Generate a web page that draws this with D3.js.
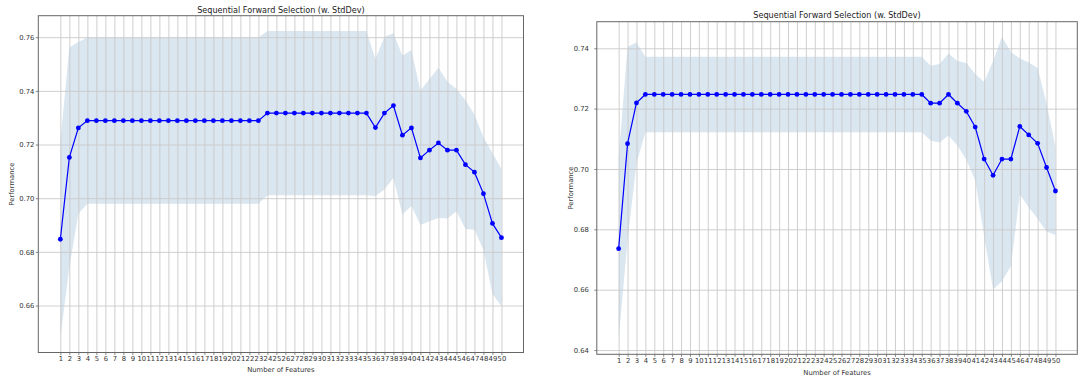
<!DOCTYPE html>
<html>
<head>
<meta charset="utf-8">
<script src="https://cdn.jsdelivr.net/npm/d3@7"></script>
<style>
  html, body { margin: 0; padding: 0; background: #fff; }
  svg { display: block; font-family: "DejaVu Sans", sans-serif; }
</style>
</head>
<body>
<svg id="chart" width="1078" height="378"></svg>
<script>
// ---------- data ----------
const featureCounts = d3.range(1, 51);
const xTickLabels = featureCounts.map(String);

const leftAvg = [0.6847, 0.7152, 0.7262,
  0.7289, 0.7289, 0.7289, 0.7289, 0.7289, 0.7289, 0.7289, 0.7289, 0.7289, 0.7289,
  0.7289, 0.7289, 0.7289, 0.7289, 0.7289, 0.7289, 0.7289, 0.7289, 0.7289, 0.7289,
  0.7317, 0.7317, 0.7317, 0.7317, 0.7317, 0.7317, 0.7317, 0.7317, 0.7317, 0.7317, 0.7317, 0.7317,
  0.7263, 0.7317, 0.7345, 0.7235, 0.7262, 0.7150, 0.7179, 0.7206, 0.7179, 0.7179,
  0.7125, 0.7097, 0.7017, 0.6906, 0.6853];
const leftStd = [0.0365, 0.0410, 0.0320,
  0.0310, 0.0310, 0.0310, 0.0310, 0.0310, 0.0310, 0.0310, 0.0310, 0.0310, 0.0310,
  0.0310, 0.0310, 0.0310, 0.0310, 0.0310, 0.0310, 0.0310, 0.0310, 0.0310, 0.0310,
  0.0306, 0.0306, 0.0306, 0.0306, 0.0306, 0.0306, 0.0306, 0.0306, 0.0306, 0.0306, 0.0306, 0.0306,
  0.0255, 0.0285, 0.0270, 0.0296, 0.0290, 0.0250, 0.0265, 0.0280, 0.0255, 0.0228,
  0.0240, 0.0215, 0.0210, 0.0262, 0.0256];
const leftYTicks = [0.66, 0.68, 0.70, 0.72, 0.74, 0.76];

const rightAvg = [0.6736, 0.7084, 0.7219,
  0.7247, 0.7247, 0.7247, 0.7247, 0.7247, 0.7247, 0.7247, 0.7247, 0.7247, 0.7247,
  0.7247, 0.7247, 0.7247, 0.7247, 0.7247, 0.7247, 0.7247, 0.7247, 0.7247, 0.7247,
  0.7247, 0.7247, 0.7247, 0.7247, 0.7247, 0.7247, 0.7247, 0.7247, 0.7247, 0.7247, 0.7247, 0.7247,
  0.7218, 0.7218, 0.7247, 0.7218, 0.7191, 0.7139, 0.7033, 0.6979, 0.7033, 0.7033,
  0.7141, 0.7113, 0.7085, 0.7005, 0.6927];
const rightStd = [0.0300, 0.0321, 0.0200,
  0.0125, 0.0125, 0.0125, 0.0125, 0.0125, 0.0125, 0.0125, 0.0125, 0.0125, 0.0125,
  0.0125, 0.0125, 0.0125, 0.0125, 0.0125, 0.0125, 0.0125, 0.0125, 0.0125, 0.0125,
  0.0125, 0.0125, 0.0125, 0.0125, 0.0125, 0.0125, 0.0125, 0.0125, 0.0125, 0.0125, 0.0125, 0.0125,
  0.0124, 0.0130, 0.0136, 0.0140, 0.0160, 0.0176, 0.0255, 0.0378, 0.0405, 0.0355,
  0.0225, 0.0240, 0.0250, 0.0212, 0.0146];
const rightYTicks = [0.64, 0.66, 0.68, 0.70, 0.72, 0.74];

const titleText = "Sequential Forward Selection (w. StdDev)";
const xLabelText = "Number of Features";
const yLabelText = "Performance";

// ---------- drawing ----------
const svg = d3.select("#chart");

function drawPanel(p) {
  const n = p.avg.length;
  const upper = p.avg.map((v, i) => v + p.std[i]);
  const lower = p.avg.map((v, i) => v - p.std[i]);
  const ymin = d3.min(lower), ymax = d3.max(upper);
  const ym = (ymax - ymin) * 0.05;
  const xm = (n - 1) * 0.05;

  const x = d3.scaleLinear().domain([1 - xm, n + xm]).range([p.left, p.right]);
  const y = d3.scaleLinear().domain([ymin - ym, ymax + ym]).range([p.bottom, p.top]);

  const g = svg.append("g");

  // fill band
  const area = d3.area()
    .x((d, i) => x(featureCounts[i]))
    .y0((d, i) => y(lower[i]))
    .y1((d, i) => y(upper[i]));
  g.append("path").datum(p.avg).attr("d", area)
    .attr("fill", "steelblue").attr("fill-opacity", 0.2);

  // grid
  const gridX = d3.axisBottom(x).tickValues(featureCounts)
    .tickSize(-(p.bottom - p.top)).tickFormat("");
  g.append("g").attr("transform", `translate(0,${p.bottom})`).call(gridX)
    .call(s => s.select(".domain").remove())
    .selectAll("line").attr("stroke", "#c9c9c9").attr("stroke-width", 0.9);
  const gridY = d3.axisLeft(y).tickValues(p.yTicks)
    .tickSize(-(p.right - p.left)).tickFormat("");
  g.append("g").attr("transform", `translate(${p.left},0)`).call(gridY)
    .call(s => s.select(".domain").remove())
    .selectAll("line").attr("stroke", "#c9c9c9").attr("stroke-width", 0.9);

  // line + markers
  const line = d3.line().x((d, i) => x(featureCounts[i])).y(d => y(d));
  g.append("path").datum(p.avg).attr("d", line)
    .attr("fill", "none").attr("stroke", "#0000ff").attr("stroke-width", 1.2);
  g.selectAll("circle.pt").data(p.avg).enter().append("circle")
    .attr("class", "pt")
    .attr("cx", (d, i) => x(featureCounts[i])).attr("cy", d => y(d))
    .attr("r", 2.4).attr("fill", "#0000ff");

  // axes ticks
  const xAxis = d3.axisBottom(x).tickValues(featureCounts)
    .tickFormat((d, i) => xTickLabels[i]).tickSize(2.5).tickPadding(1.5);
  const xa = g.append("g").attr("transform", `translate(0,${p.bottom})`).call(xAxis);
  xa.select(".domain").remove();
  xa.selectAll("line").attr("stroke", "#555").attr("stroke-width", 0.7);
  xa.selectAll("text").attr("font-size", 6.8).attr("fill", "#333")
    .attr("font-family", "DejaVu Sans").attr("dy", "0.71em");

  const yAxis = d3.axisLeft(y).tickValues(p.yTicks)
    .tickFormat(d3.format(".2f")).tickSize(2.5).tickPadding(p.yPad);
  const ya = g.append("g").attr("transform", `translate(${p.left},0)`).call(yAxis);
  ya.select(".domain").remove();
  ya.selectAll("line").attr("stroke", "#555").attr("stroke-width", 0.7);
  ya.selectAll("text").attr("font-size", 6.8).attr("fill", "#333")
    .attr("font-family", "DejaVu Sans");

  // frame
  g.append("rect").attr("x", p.left).attr("y", p.top)
    .attr("width", p.right - p.left).attr("height", p.bottom - p.top)
    .attr("fill", "none").attr("stroke", "#666").attr("stroke-width", 1);

  // labels
  g.append("text").attr("x", (p.left + p.right) / 2).attr("y", p.titleY)
    .attr("text-anchor", "middle").attr("dominant-baseline", "central")
    .attr("font-size", 8.1).attr("fill", "#222").text(titleText);
  g.append("text").attr("x", (p.left + p.right) / 2).attr("y", p.xLabelY)
    .attr("text-anchor", "middle").attr("dominant-baseline", "central")
    .attr("font-size", 6.8).attr("fill", "#333").text(xLabelText);
  g.append("text")
    .attr("transform", `translate(${p.yLabelX},${(p.top + p.bottom) / 2}) rotate(-90)`)
    .attr("text-anchor", "middle").attr("dominant-baseline", "central")
    .attr("font-size", 6.8).attr("fill", "#333").text(yLabelText);
}

drawPanel({ avg: leftAvg, std: leftStd, yTicks: leftYTicks,
  left: 38.3, right: 523.5, top: 15.7, bottom: 352.5,
  titleY: 10, xLabelY: 370, yLabelX: 12, yPad: 1.5 });
drawPanel({ avg: rightAvg, std: rightStd, yTicks: rightYTicks,
  left: 596.8, right: 1077.3, top: 21.7, bottom: 354.3,
  titleY: 15, xLabelY: 372.7, yLabelX: 570.7, yPad: 5.5 });
</script>
</body>
</html>
